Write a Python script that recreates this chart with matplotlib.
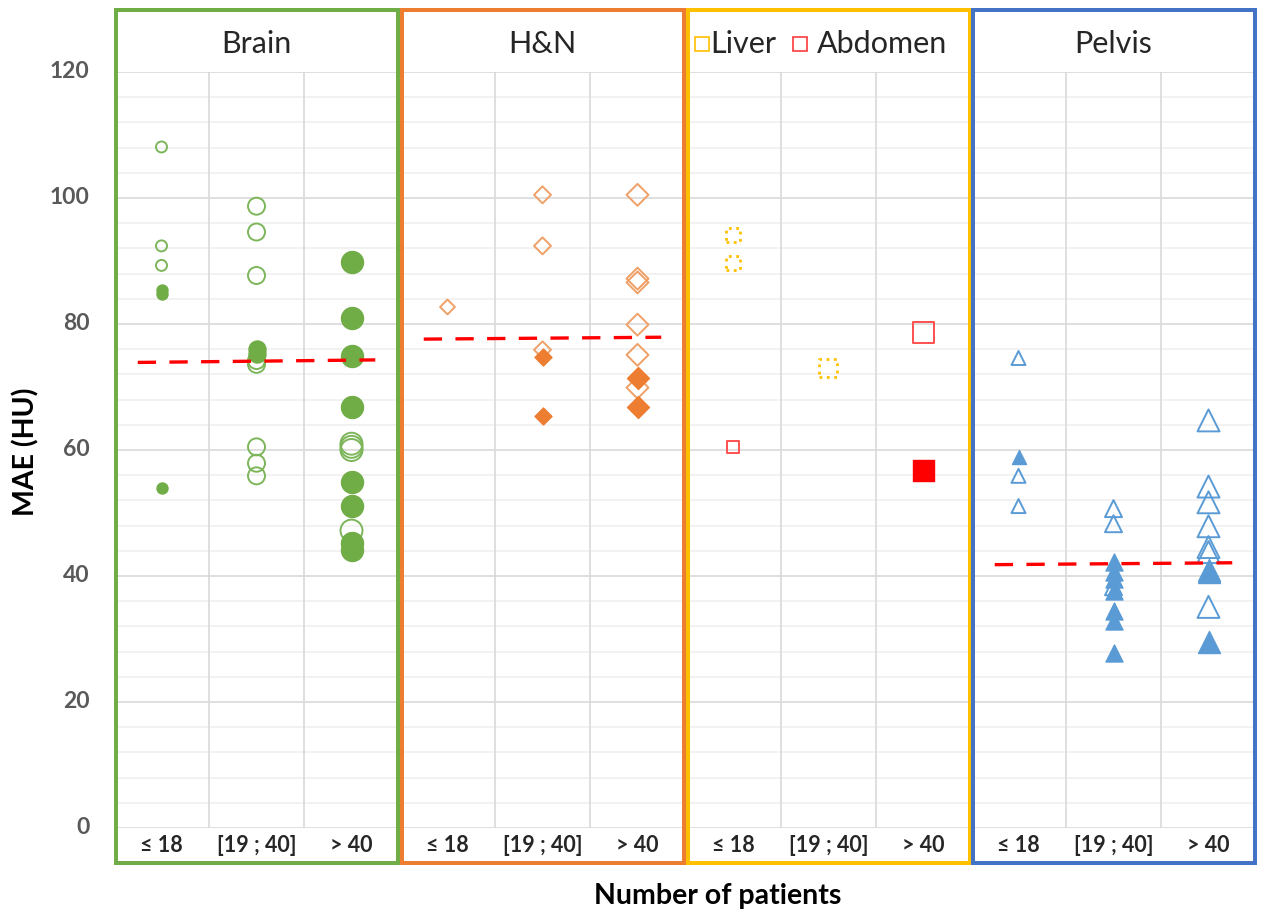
import matplotlib
matplotlib.use("Agg")
import matplotlib.pyplot as plt
from matplotlib.patches import Rectangle
from matplotlib.lines import Line2D

# ---------------- data ----------------
categories = ["\u2264 18", "[19 ; 40]", "> 40"]
y_ticks = [0, 20, 40, 60, 80, 100, 120]

brain_open = [[108.1, 92.4, 89.3],
              [98.7, 94.6, 87.7, 74.2, 73.6, 60.5, 57.9, 55.9],
              [61.0, 60.5, 60.0, 47.2]]
brain_filled = [[85.4, 84.8, 54.0],
                [76.0, 75.2],
                [89.9, 80.9, 74.9, 66.9, 54.9, 51.1, 45.3, 44.2]]
brain_mean = [73.9, 74.3]

hn_open = [[82.7],
           [100.5, 92.4, 75.9],
           [100.5, 87.2, 86.6, 79.9, 75.1, 69.9]]
hn_filled = [[],
             [74.8, 65.4],
             [71.4, 66.9]]
hn_mean = [77.6, 77.9]

liver_open = [[94.2, 89.7], [73.0], []]
abdomen_open = [[60.5], [], [78.6]]
abdomen_filled = [[], [], [56.9]]

pelvis_open = [[74.6, 55.9, 51.1],
               [50.7, 48.3, 38.3],
               [64.7, 54.2, 51.7, 47.9, 44.6, 43.8, 35.1]]
pelvis_filled = [[58.9],
                 [42.3, 40.6, 39.5, 37.6, 34.4, 32.9, 27.7],
                 [41.0, 40.6, 29.6]]
pelvis_mean = [41.8, 42.1]

# ---------------- style ----------------
W, H = 1261, 910
DPI = 100
FONT = ["Lato", "DejaVu Sans"]
plt.rcParams["font.family"] = FONT

fig = plt.figure(figsize=(W / DPI, H / DPI), dpi=DPI)

def px2pt(p):
    return p * 72.0 / DPI

panel_x = [114, 400, 686, 971]
panel_w = 285
y0_px, y120_px = 828, 72
frame_top, frame_bot = 10, 863
frame_colors = ["#70AD47", "#ED7D31", "#FFC000", "#4472C4"]

axes = []
for i, x in enumerate(panel_x):
    ax = fig.add_axes([x / W, (H - y0_px) / H, panel_w / W, (y0_px - y120_px) / H])
    ax.set_xlim(-0.5, 2.5)
    ax.set_ylim(0, 120)
    for s in ax.spines.values():
        s.set_visible(False)
    ax.set_xticks([])
    ax.set_yticks([])
    # horizontal grid every 4 units
    for v in range(0, 121, 4):
        c = "#D9D9D9" if v % 20 == 0 else "#F0F0F0"
        ax.axhline(v, color=c, lw=1.2, zorder=0)
    for xv in [0.5, 1.5]:
        ax.axvline(xv, color="#D9D9D9", lw=1.2, zorder=0)
    for k, lab in enumerate(categories):
        ax.text(k, -2.7, lab, ha="center", va="center", fontsize=15.5,
                fontweight="bold", color="#262626", family=FONT, clip_on=False)
    ax.set_facecolor("none")
    axes.append(ax)
    # frame
    lw = 4.0
    fig.add_artist(Rectangle(((x + 2) / W, (H - frame_bot) / H),
                             (panel_w - 3) / W, (frame_bot - frame_top) / H,
                             transform=fig.transFigure, fill=False,
                             edgecolor=frame_colors[i], lw=px2pt(lw), zorder=5))

# y tick labels on the left
for v in y_ticks:
    axes[0].text(-0.76, v, str(v), ha="right", va="center", fontsize=16.5,
                 fontweight="bold", color="#595959", clip_on=False)

fig.text(26 / W, 1 - 452 / H, "MAE (HU)", rotation=90, ha="center", va="center",
         fontsize=20.5, fontweight="bold", color="#000000")
fig.text(718 / W, 1 - 896 / H, "Number of patients", ha="center", va="center",
         fontsize=20.5, fontweight="bold", color="#000000")

# titles
title_y = 1 - 44 / H
for i, t in enumerate(["Brain", "H&N", None, "Pelvis"]):
    if t:
        fig.text((panel_x[i] + panel_w / 2) / W, title_y, t, ha="center",
                 va="center", fontsize=22, color="#262626")
# Liver / Abdomen legend title
fig.add_artist(Line2D([702 / W], [title_y], transform=fig.transFigure, marker="s",
                      ms=px2pt(14), mfc="none", mec="#FFC000", mew=1.2, ls="none"))
fig.text(710 / W, title_y, "Liver", ha="left", va="center", fontsize=22, color="#262626")
fig.add_artist(Line2D([800 / W], [title_y], transform=fig.transFigure, marker="s",
                      ms=px2pt(14), mfc="none", mec="#FF3B3B", mew=1.2, ls="none"))
fig.text(817 / W, title_y, "Abdomen", ha="left", va="center", fontsize=22, color="#262626")


def draw(ax, open_vals, filled_vals, marker, sizes_px, open_col, fill_col, ls="-", olw=1.4):
    for k in range(3):
        ms = px2pt(sizes_px[k])
        if open_vals and open_vals[k]:
            ax.scatter([k] * len(open_vals[k]), open_vals[k], s=ms ** 2, marker=marker,
                       facecolors="none", edgecolors=open_col, linewidths=olw,
                       linestyle=ls, zorder=3)
        if filled_vals and filled_vals[k]:
            ax.scatter([k] * len(filled_vals[k]), filled_vals[k], s=ms ** 2, marker=marker,
                       facecolors=fill_col, edgecolors=fill_col, linewidths=1.0, zorder=3)


def mean_line(ax, vals):
    ax.plot([-0.25, 2.25], vals, color="#FF0000", lw=2.4, dashes=(5.5, 4), zorder=4)


# Brain
draw(axes[0], brain_open, brain_filled, "o", [11, 17, 22], "#7DB65A", "#70AD47")
mean_line(axes[0], brain_mean)
# H&N
draw(axes[1], hn_open, hn_filled, "D", [10.5, 12, 15.5], "#F0A066", "#ED7D31")
mean_line(axes[1], hn_mean)
# Liver / Abdomen
draw(axes[2], liver_open, None, "s", [14, 18, 21], "#FFC000", "#FFC000", ls=":", olw=2.0)
draw(axes[2], abdomen_open, abdomen_filled, "s", [12, 18, 21], "#FF5050", "#FF0000")
# Pelvis
draw(axes[3], pelvis_open, pelvis_filled, "^", [14, 17, 22], "#5B9BD5", "#5B9BD5")
mean_line(axes[3], pelvis_mean)

fig.savefig("out.png", dpi=DPI)
